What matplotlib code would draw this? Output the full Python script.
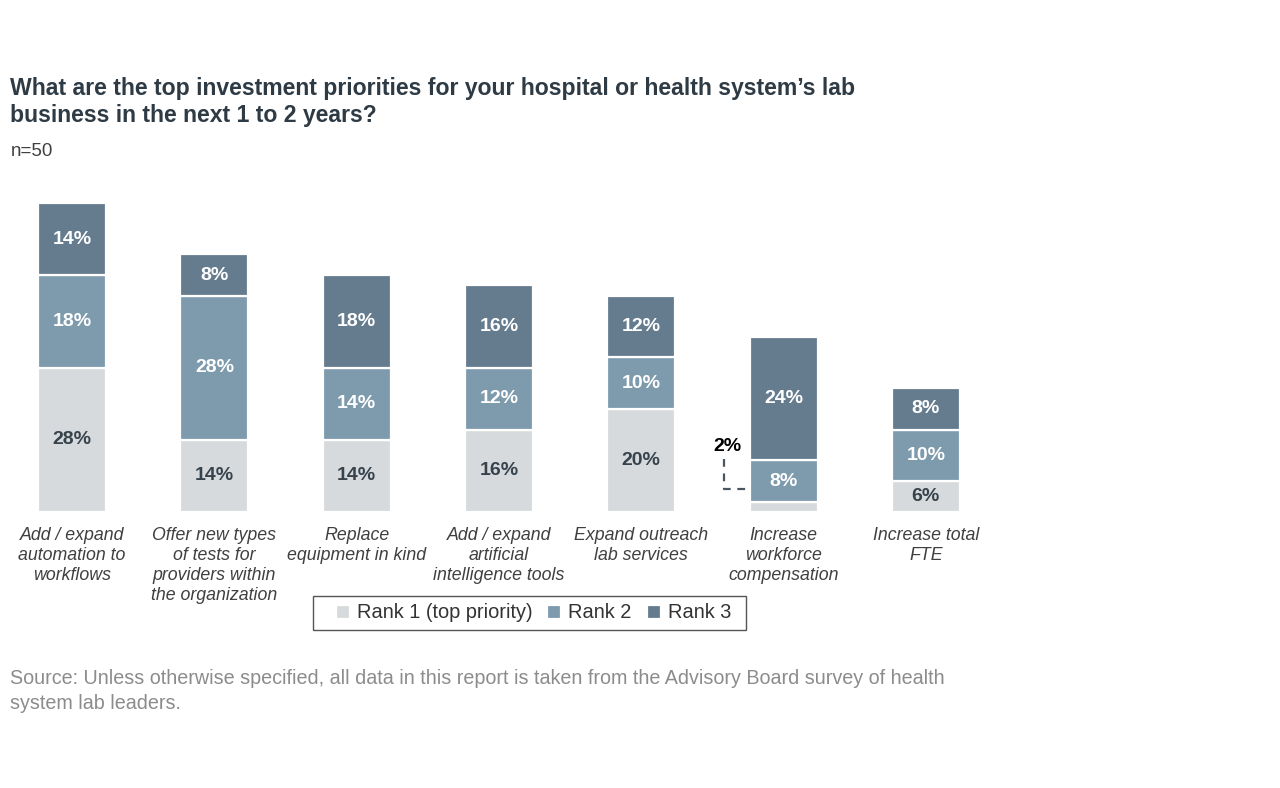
import matplotlib
matplotlib.use('Agg')
import matplotlib.pyplot as plt
from matplotlib.patches import Rectangle
import numpy as np

plt.rcParams['font.family'] = ['Liberation Sans', 'DejaVu Sans']

# データ
categories = ['Add / expand\nautomation to\nworkflows',
              'Offer new types\nof tests for\nproviders within\nthe organization',
              'Replace\nequipment in kind',
              'Add / expand\nartificial\nintelligence tools',
              'Expand outreach\nlab services',
              'Increase\nworkforce\ncompensation',
              'Increase total\nFTE']
rank1 = [28, 14, 14, 16, 20, 2, 6]
rank2 = [18, 28, 14, 12, 10, 8, 10]
rank3 = [14, 8, 18, 16, 12, 24, 8]
series_names = ['Rank 1 (top priority)', 'Rank 2', 'Rank 3']

colors = ['#D7DADC', '#7E9AAD', '#657B8E']
label_colors = ['#36424C', 'white', 'white']

fig = plt.figure(figsize=(12.8, 7.88), dpi=100)
ax = fig.add_axes([1/1280, 0.3503, 996/1280, 0.4575])

x = np.arange(len(categories))
w = 0.478
bottom = np.zeros(len(categories))
handles = []
for vals, c, lc, name in zip([rank1, rank2, rank3], colors, label_colors, series_names):
    bars = ax.bar(x, vals, w, bottom=bottom, color=c, edgecolor='white', linewidth=1.6, label=name)
    handles.append(bars)
    for xi, v, b in zip(x, vals, bottom):
        if v >= 5:
            ax.text(xi, b + v / 2, f'{v}%', ha='center', va='center', color=lc,
                    fontsize=14, fontweight='bold')
    bottom += np.array(vals)

# 2%のラベル（小さいセグメント）
small = 5
lx = small - 0.418
ax.plot([lx, lx, small - w / 2], [10.3, 4.5, 4.5], ls=(0, (3.5, 3)), color='#4A5560', lw=1.6)
ax.text(lx + 0.02, 11.0, f'{rank1[small]}%', ha='center', va='bottom', color='black',
        fontsize=14, fontweight='bold')

ax.set_xlim(-0.5, len(categories) - 0.5)
ax.set_ylim(0, 70)
ax.set_xticks(x)
ax.set_xticklabels(categories, fontsize=12.8, style='italic', color='#404040', linespacing=1.22)
ax.tick_params(axis='x', length=0, pad=11)
ax.set_yticks([])
for s in ax.spines.values():
    s.set_visible(False)

# 凡例（枠は別に描く）
leg = fig.legend(handles=handles, loc='center', bbox_to_anchor=(533.5 / 1280, 1 - 613 / 788),
                 ncol=3, frameon=False, fontsize=14.4, handlelength=0.75,
                 handleheight=0.75, handletextpad=0.3, columnspacing=0.75, borderpad=0.4,
                 borderaxespad=0)
for p in leg.get_patches():
    p.set_width(10)
    p.set_height(10)
for t in leg.get_texts():
    t.set_color('#333333')
fig.patches.append(Rectangle((313 / 1280, 1 - 630 / 788), 433 / 1280, 34 / 788,
                             transform=fig.transFigure, fill=False, edgecolor='#555555', lw=1.0))

fig.text(10 / 1280, 1 - 102 / 788,
         'What are the top investment priorities for your hospital or health system\u2019s lab\nbusiness in the next 1 to 2 years?',
         fontsize=16.6, fontweight='bold', color='#2E3A44', va='center', linespacing=1.27)
fig.text(11 / 1280, 1 - 152 / 788, 'n=50', fontsize=13.5, color='#404040', va='center')
fig.text(10 / 1280, 1 - 691 / 788,
         'Source: Unless otherwise specified, all data in this report is taken from the Advisory Board survey of health\nsystem lab leaders.',
         fontsize=14.2, color='#8C8C8C', va='center', linespacing=1.45)

fig.savefig('out.png', dpi=100)
